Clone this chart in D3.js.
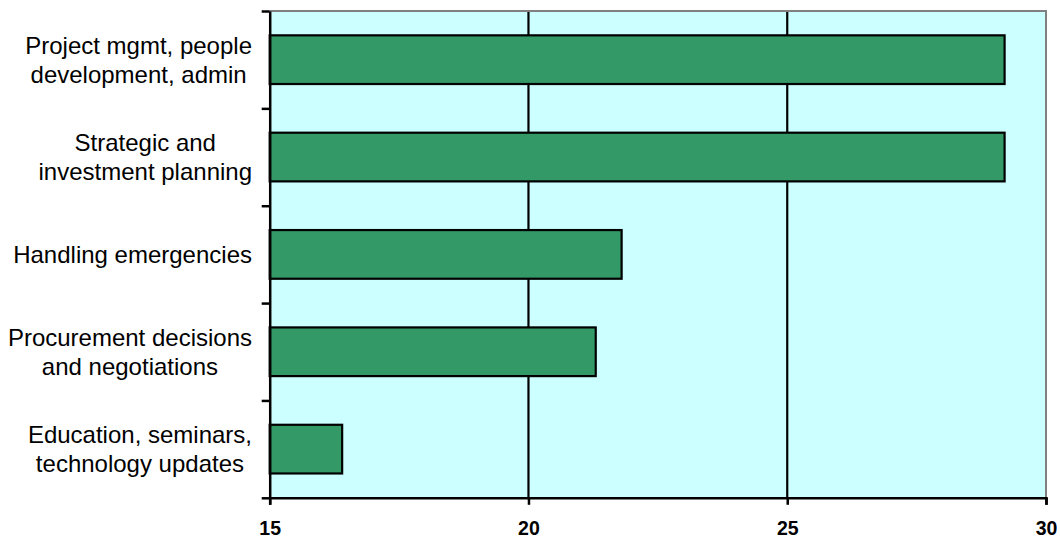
<!DOCTYPE html>
<html>
<head>
<meta charset="utf-8">
<script src="https://cdn.jsdelivr.net/npm/d3@7"></script>
<style>
  html, body { margin: 0; padding: 0; background: #ffffff; }
  svg { display: block; }
  text { font-family: "Liberation Sans", Arial, Helvetica, sans-serif; fill: #000; }
</style>
</head>
<body>
<svg id="chart" width="1060" height="539"></svg>
<script>
// Activity categories (top to bottom) and their values
const categories = [
  ["Project mgmt, people", "development, admin"],
  ["Strategic and", "investment planning"],
  ["Handling emergencies"],
  ["Procurement decisions", "and negotiations"],
  ["Education, seminars,", "technology updates"]
];
const values = [29.2, 29.2, 21.8, 21.3, 16.4];
const xTicks = [15, 20, 25, 30];
const xDomain = [15, 30];

const svg = d3.select("#chart");
const plot = { left: 269.7, right: 1046, top: 11, bottom: 497.8 };

const x = d3.scaleLinear().domain(xDomain).range([plot.left, plot.right]);
const keys = categories.map((c, i) => i);
const y = d3.scaleBand().domain(keys).range([plot.top, plot.bottom])
  .paddingInner(0.5).paddingOuter(0.25);
// boundary scale for the category tick marks between bands
const yEdge = d3.scaleLinear().domain([0, categories.length]).range([plot.top, plot.bottom]);

// plot background
svg.append("rect")
  .attr("x", plot.left).attr("y", plot.top)
  .attr("width", plot.right - plot.left).attr("height", plot.bottom - plot.top)
  .attr("fill", "#CCFFFF");

// vertical gridlines
svg.append("g").selectAll("line")
  .data(xTicks.filter(t => t > xDomain[0] && t < xDomain[1]))
  .join("line")
  .attr("x1", d => x(d)).attr("x2", d => x(d))
  .attr("y1", plot.top).attr("y2", plot.bottom)
  .attr("stroke", "#000").attr("stroke-width", 2.2);

// bars
svg.append("g").selectAll("rect")
  .data(values)
  .join("rect")
  .attr("x", x(xDomain[0]))
  .attr("y", (d, i) => y(i))
  .attr("width", d => x(d) - x(xDomain[0]))
  .attr("height", y.bandwidth())
  .attr("fill", "#339966")
  .attr("stroke", "#000")
  .attr("stroke-width", 2.2);

// gray frame on top and right
svg.append("path")
  .attr("d", `M${plot.left},${plot.top}H${plot.right}V${plot.bottom}`)
  .attr("fill", "none").attr("stroke", "#808080").attr("stroke-width", 2);

// x axis
const xAxis = svg.append("g")
  .attr("transform", `translate(0,${plot.bottom})`)
  .call(d3.axisBottom(x).tickValues(xTicks).tickFormat(d3.format("d"))
    .tickSize(7).tickSizeOuter(7).tickPadding(16));
xAxis.select(".domain").attr("stroke", "#000").attr("stroke-width", 2.5);
xAxis.selectAll(".tick line").attr("stroke", "#000").attr("stroke-width", 2.5);
xAxis.selectAll("text")
  .style("font-family", '"Liberation Sans", Arial, sans-serif')
  .style("font-size", "19.5px").style("font-weight", "bold").attr("fill", "#000");

// y axis tick marks at category boundaries
const yAxis = svg.append("g")
  .attr("transform", `translate(${plot.left},0)`)
  .call(d3.axisLeft(yEdge).tickValues(d3.range(categories.length + 1))
    .tickFormat("").tickSize(8).tickSizeOuter(0));
yAxis.select(".domain").attr("stroke", "#000").attr("stroke-width", 2.5);
yAxis.selectAll(".tick line").attr("stroke", "#000").attr("stroke-width", 2.5);

// category labels: multi-line, centred within a right-aligned block
const fontSize = 24, lineH = 29, capH = 17.2, labelRight = 252;
const labels = svg.append("g")
  .style("font-size", fontSize + "px");
categories.forEach((lines, i) => {
  const cy = y(i) + y.bandwidth() / 2;
  const t = labels.append("text").attr("text-anchor", "middle");
  const first = cy - (lines.length - 1) * lineH / 2 + capH / 2;
  lines.forEach((ln, j) => {
    t.append("tspan").attr("y", first + j * lineH).text(ln);
  });
  let maxW = 0;
  t.selectAll("tspan").each(function () {
    maxW = Math.max(maxW, this.getComputedTextLength());
  });
  t.selectAll("tspan").attr("x", labelRight - maxW / 2);
});
</script>
</body>
</html>
